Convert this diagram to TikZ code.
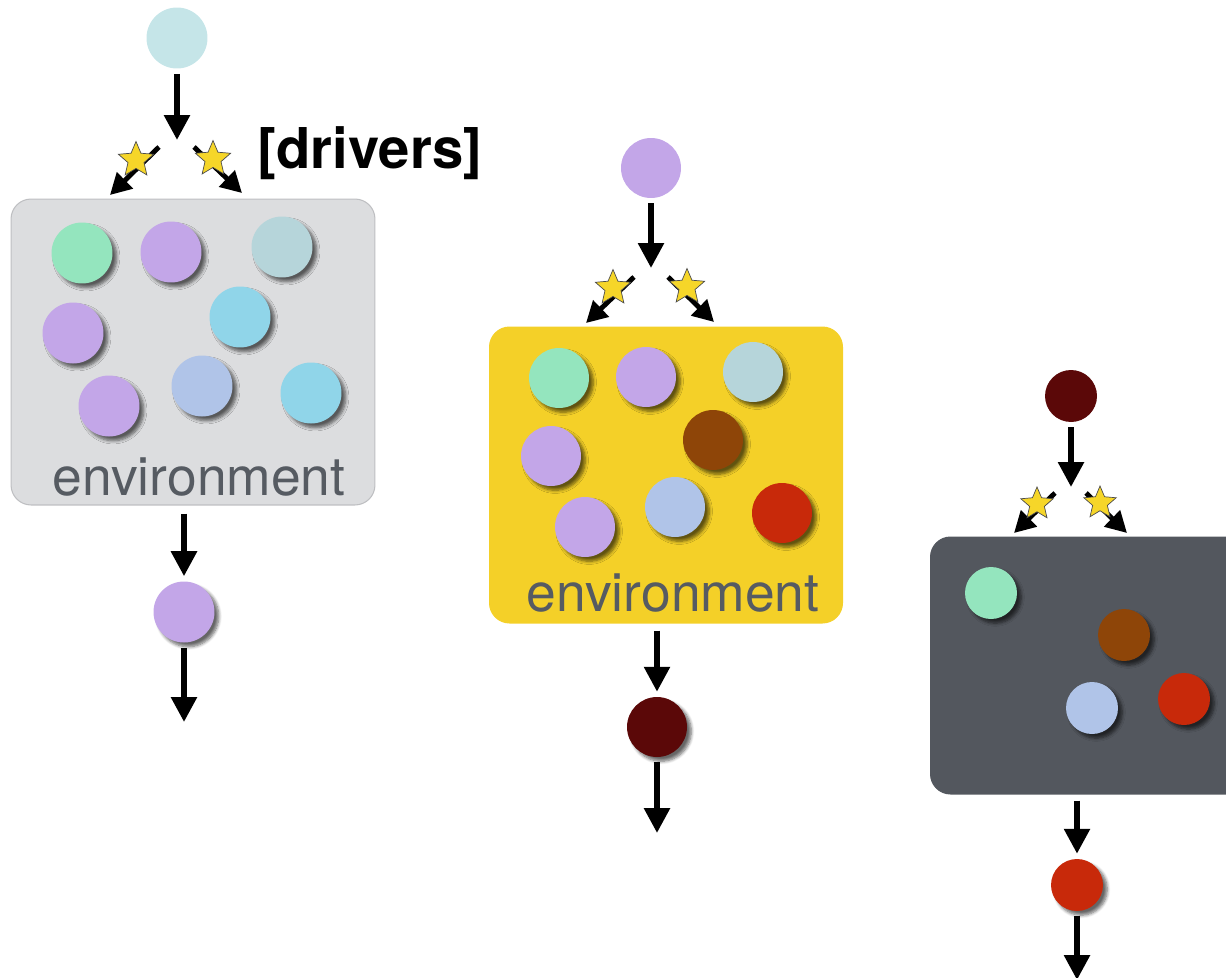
\documentclass[tikz,border=0pt]{standalone}
\usepackage{fontspec}
\setmainfont{TeX Gyre Heros}
\usepackage{tikz}
\usetikzlibrary{arrows.meta,shapes.geometric,shadows.blur}
\definecolor{icecol}{RGB}{197,229,232}
\definecolor{mintcol}{RGB}{148,229,190}
\definecolor{lilaccol}{RGB}{195,166,232}
\definecolor{sagecol}{RGB}{182,213,218}
\definecolor{skycol}{RGB}{144,213,233}
\definecolor{periwinkle}{RGB}{176,196,232}
\definecolor{rustcol}{RGB}{142,69,8}
\definecolor{redcol}{RGB}{200,41,10}
\definecolor{maroon}{RGB}{91,8,8}
\definecolor{fogcol}{RGB}{220,221,223}
\definecolor{fogedge}{RGB}{190,191,194}
\definecolor{mustard}{RGB}{244,208,40}
\definecolor{slatecol}{RGB}{83,87,94}
\definecolor{envgray}{RGB}{86,91,98}
\definecolor{starcol}{RGB}{246,214,41}

\begin{document}
\begin{tikzpicture}[x=0.02cm,y=-0.02cm,
  dot/.style={circle,minimum size=1.22cm,inner sep=0,outer sep=3pt},
  sdot/.style={dot,blur shadow={shadow xshift=2.4pt,shadow yshift=-2.4pt,shadow blur radius=1.8pt,
    shadow blur steps=6,shadow opacity=60}},
  smalldot/.style={minimum size=1.04cm},
  flow/.style={line width=3.3pt,-{Triangle[width=0.5cm,length=0.5cm]}},
  kick/.style={line width=2.8pt,-{Triangle[width=0.44cm,length=0.42cm]}},
  spark/.style={star,star points=5,star point ratio=2.2,minimum size=0.74cm,inner sep=0,
    fill=starcol,draw=black!70,line width=0.4pt},
  envbox/.style={rounded corners=0.4cm,draw=fogedge,line width=0.6pt},
  envtext/.style={text=envgray,font=\fontsize{30.4pt}{36pt}\selectfont,anchor=base}
]
\useasboundingbox (0,0) rectangle (1226,977);

% first stage
\node[envbox,fill=fogcol,minimum width=7.28cm,minimum height=6.12cm] (env1) at (193,352) {};
\foreach \x/\y/\c [count=\i] in {82/253/mintcol,171/252/lilaccol,282/247/sagecol,73/333/lilaccol,
    240/317/skycol,109/406/lilaccol,202/386/periwinkle,311/393/skycol}
    \node[sdot,fill=\c] (a\i) at (\x,\y) {};
\node[envtext] (lab1) at (199,495) {environment};

\node[dot,fill=icecol] (in1) at (177,38) {};
\coordinate (s1) at (177,140);
\draw[flow] (in1) -- (s1);
\coordinate (l1a) at (159,147); \coordinate (l1b) at (110,195);
\coordinate (r1a) at (194,147); \coordinate (r1b) at (242,193);
\draw[kick] (l1a) -- (l1b);
\draw[kick] (r1a) -- (r1b);
\node[spark] (st1l) at (136,160) {};
\node[spark] (st1r) at (213,159) {};
\node[anchor=base,font=\bfseries\fontsize{32pt}{36pt}\selectfont] (drv) at (370,168) {[drivers]};

\node[sdot,fill=lilaccol] (out1) at (184,612) {};
\draw[flow] (out1 |- env1.south) ++(0,8) -- (out1);
\coordinate (e1) at (184,722);
\draw[flow] (out1) -- (e1);

% second stage
\node[envbox,draw=mustard,fill=mustard,minimum width=7.06cm,minimum height=5.92cm] (env2) at (666,475) {};
\foreach \x/\y/\c [count=\i] in {559/378/mintcol,646/377/lilaccol,753/372/sagecol,551/456/lilaccol,
    713/440/rustcol,585/527/lilaccol,675/507/periwinkle,782/513/redcol}
    \node[sdot,fill=\c,minimum size=1.2cm] (b\i) at (\x,\y) {};
\node[envtext] (lab2) at (673,611) {environment};

\node[dot,fill=lilaccol,minimum size=1.2cm] (in2) at (651,168) {};
\coordinate (s2) at (651,268);
\draw[flow] (in2) -- (s2);
\coordinate (l2a) at (634,277); \coordinate (l2b) at (586,323);
\coordinate (r2a) at (668,277); \coordinate (r2b) at (714,322);
\draw[kick] (l2a) -- (l2b);
\draw[kick] (r2a) -- (r2b);
\node[spark] (st2l) at (613,288) {};
\node[spark] (st2r) at (687,287) {};

\node[sdot,fill=maroon,minimum size=1.2cm] (out2) at (657,727) {};
\draw[flow] (out2 |- env2.south) ++(0,7) -- (out2);
\coordinate (e2) at (657,833);
\draw[flow] (out2) -- (e2);

% third stage
\node[envbox,draw=slatecol,fill=slatecol,minimum width=6.38cm,minimum height=5.14cm] (env3) at (1090,665.5) {};
\foreach \x/\y/\c [count=\i] in {991/593/mintcol,1124/635/rustcol,1092/708/periwinkle,1184/699/redcol}
    \node[sdot,smalldot,fill=\c] (c\i) at (\x,\y) {};

\node[dot,smalldot,fill=maroon] (in3) at (1071,396) {};
\coordinate (s3) at (1071,487);
\draw[flow] (in3) -- (s3);
\coordinate (l3a) at (1055,493); \coordinate (l3b) at (1014,533);
\coordinate (r3a) at (1086,493); \coordinate (r3b) at (1127,533);
\draw[kick] (l3a) -- (l3b);
\draw[kick] (r3a) -- (r3b);
\node[spark,minimum size=0.68cm] (st3l) at (1037,504) {};
\node[spark,minimum size=0.68cm] (st3r) at (1100,503) {};

\node[sdot,smalldot,fill=redcol] (out3) at (1077,885) {};
\draw[flow] (out3 |- env3.south) ++(0,6) -- (out3);
\coordinate (e3) at (1077,980);
\draw[flow] (out3) -- (e3);

\end{tikzpicture}
\end{document}
